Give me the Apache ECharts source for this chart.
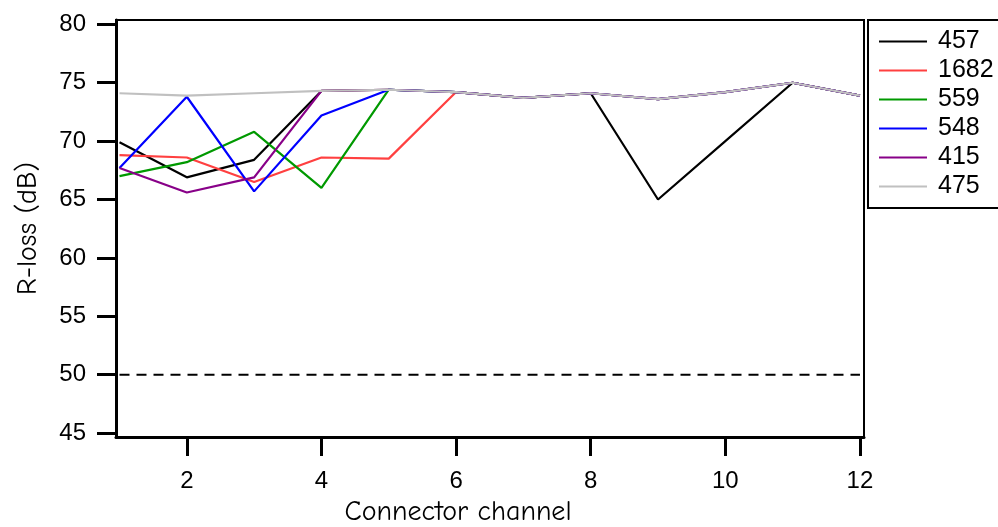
<!DOCTYPE html>
<html>
<head>
<meta charset="utf-8">
<script src="https://cdn.jsdelivr.net/npm/echarts@6/dist/echarts.min.js"></script>
<style>
  html, body { margin: 0; padding: 0; background: #fff; }
  #chart { width: 998px; height: 527px; }
</style>
</head>
<body>
<div id="chart"></div>
<script>
// connector channels on the x axis
const channels = [1, 2, 3, 4, 5, 6, 7, 8, 9, 10, 11, 12];

// R-loss (dB) per sample
const s457 = [69.9, 66.9, 68.4, 74.3, 74.4, 74.2, 73.7, 74.1, 65.0, 70.0, 75.0, 73.9];
const s1682 = [68.8, 68.6, 66.5, 68.6, 68.5, 74.2, 73.7, 74.1, 73.6, 74.2, 75.0, 73.9];
const s559 = [67.0, 68.2, 70.8, 66.0, 74.4, 74.2, 73.7, 74.1, 73.6, 74.2, 75.0, 73.9];
const s548 = [67.7, 73.8, 65.7, 72.2, 74.4, 74.2, 73.7, 74.1, 73.6, 74.2, 75.0, 73.9];
const s415 = [67.7, 65.6, 66.9, 74.3, 74.4, 74.2, 73.7, 74.1, 73.6, 74.2, 75.0, 73.9];
const s475 = [74.1, 73.9, 74.1, 74.3, 74.4, 74.2, 73.7, 74.1, 73.6, 74.2, 75.0, 73.9];

// dashed limit line
const limitX = [1, 12];
const limitY = [50, 50];

const seriesNames = ["457", "1682", "559", "548", "415", "475"];
const seriesData = [s457, s1682, s559, s548, s415, s475];
const seriesColors = ["#000000", "#ff4040", "#009900", "#0000ff", "#880088", "#c0c0c0"];

const xTicks = [2, 4, 6, 8, 10, 12];
const yTicks = [45, 50, 55, 60, 65, 70, 75, 80];

const chart = echarts.init(document.getElementById("chart"), null, { renderer: "canvas" });

const labelFont = "Liberation Sans, Arial, sans-serif";
const titleFont = "Comic Sans MS, Comic Neue, DejaVu Sans, sans-serif";

const option = {
  animation: false,
  backgroundColor: "#fff",
  grid: {
    left: 116,
    top: 20,
    right: 134,
    bottom: 90,
    outerBoundsMode: "none",
    show: true,
    borderColor: "#000",
    borderWidth: 2,
  },
  legend: {
    data: seriesNames,
    orient: "vertical",
    left: 868,
    top: 20,
    padding: [9, 40, 9, 11],
    itemGap: 4,
    itemWidth: 48,
    itemHeight: 2,
    icon: "rect",
    borderColor: "#000",
    borderWidth: 2,
    textStyle: {
      fontFamily: labelFont,
      fontSize: 25,
      lineHeight: 24,
      color: "#000",
      padding: [0, 0, 0, 6],
    },
  },
  xAxis: {
    type: "value",
    min: 0.948,
    max: 12.06,
    name: "Connector channel",
    nameLocation: "middle",
    nameGap: 47,
    nameTextStyle: {
      fontFamily: titleFont,
      fontSize: 28,
      color: "#000",
      padding: [0, 64, 0, 0],
    },
    axisLine: { onZero: false, lineStyle: { color: "#000", width: 3 } },
    axisTick: {
      customValues: xTicks,
      length: 19,
      lineStyle: { color: "#000", width: 3 },
    },
    axisLabel: {
      customValues: xTicks,
      margin: 32,
      fontFamily: labelFont,
      fontSize: 24,
      color: "#000",
    },
    splitLine: { show: false },
  },
  yAxis: {
    type: "value",
    min: 44.67,
    max: 80.37,
    name: "R-loss (dB)",
    nameLocation: "middle",
    nameGap: 74,
    nameTextStyle: {
      fontFamily: titleFont,
      fontSize: 28,
      color: "#000",
    },
    axisLine: { show: true, onZero: false, lineStyle: { color: "#000", width: 3 } },
    axisTick: {
      show: true,
      customValues: yTicks,
      length: 19,
      lineStyle: { color: "#000", width: 3 },
    },
    axisLabel: {
      customValues: yTicks,
      margin: 30,
      fontFamily: labelFont,
      fontSize: 24,
      color: "#000",
    },
    splitLine: { show: false },
  },
  series: [
    {
      name: "limit",
      type: "line",
      data: limitX.map((x, i) => [x, limitY[i]]),
      showSymbol: false,
      silent: true,
      lineStyle: { color: "#000", width: 2, type: [10, 7] },
    },
  ].concat(
    seriesNames.map((name, i) => ({
      name: name,
      type: "line",
      data: channels.map((c, j) => [c, seriesData[i][j]]),
      showSymbol: false,
      color: seriesColors[i],
      lineStyle: { color: seriesColors[i], width: 2.2 },
    }))
  ),
};

chart.setOption(option);
</script>
</body>
</html>
